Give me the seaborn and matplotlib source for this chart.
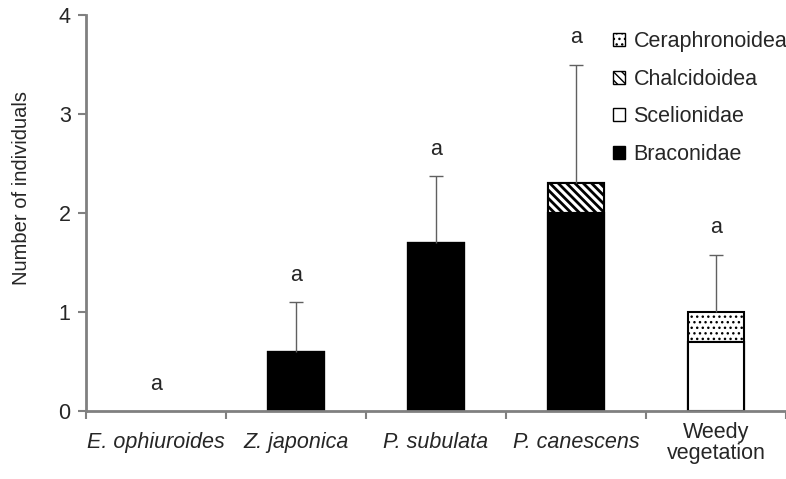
import numpy as np
import pandas as pd
import matplotlib
matplotlib.use("Agg")
import matplotlib.pyplot as plt
from matplotlib.patches import Patch
import seaborn as sns

# Data
categories = ["E. ophiuroides", "Z. japonica", "P. subulata", "P. canescens", "Weedy\nvegetation"]
braconidae = [0.0, 0.6, 1.7, 2.0, 0.0]
scelionidae = [0.0, 0.0, 0.0, 0.0, 0.7]
chalcidoidea = [0.0, 0.0, 0.0, 0.3, 0.0]
ceraphronoidea = [0.0, 0.0, 0.0, 0.0, 0.3]
err_upper = [0.0, 0.5, 0.67, 1.2, 0.58]
letters = ["a", "a", "a", "a", "a"]

sns.set_style("white")
plt.rcParams["font.family"] = ["Liberation Sans", "DejaVu Sans"]

fig = plt.figure(figsize=(7.86, 4.79), dpi=100)
ax = fig.add_axes([86 / 786, 68 / 479, 1 - 86 / 786, (411 - 15) / 479])

DOTS = "..."
STRIPES = "\\\\\\\\"

# cumulative stacks, drawn tallest first so lower layers overlap
c1 = np.array(braconidae)
c2 = c1 + np.array(scelionidae)
c3 = c2 + np.array(chalcidoidea)
c4 = c3 + np.array(ceraphronoidea)

layers = [
    (c4, "white", DOTS, 1.0),
    (c3, "white", STRIPES, 2.0),
    (c2, "white", None, 1.0),
    (c1, "black", None, 1.0),
]
for vals, col, hatch, hlw in layers:
    df = pd.DataFrame({"cat": categories, "val": np.where(vals > 0, vals, np.nan)})
    with plt.rc_context({"hatch.linewidth": hlw}):
        sns.barplot(data=df, x="cat", y="val", order=categories, color=col,
                    saturation=1, width=0.4, edgecolor="black", linewidth=1.5,
                    hatch=hatch, errorbar=None, ax=ax)

# error bars (upper only)
xpos = np.arange(len(categories))
err = np.array(err_upper)
mask = err > 0
eb = ax.errorbar(xpos[mask], c4[mask], yerr=[np.zeros(mask.sum()), err[mask]],
                 fmt="none", ecolor="#606060", elinewidth=1, capsize=5, capthick=1)
eb[1][0].set_visible(False)  # hide lower caps

# significance letters
for i, lab in enumerate(letters):
    ax.text(i, c4[i] + err[i] + 0.27, lab, ha="center", va="center", fontsize=15.5)

ax.set_ylim(0, 4)
ax.set_yticks([0, 1, 2, 3, 4])
ax.set_xlim(-0.5, 4.465)
ax.set_ylabel("Number of individuals", fontsize=14.5)
ax.yaxis.set_label_coords(-0.078, 0.563)
ax.set_xlabel("")

# ticks at category boundaries, labels at centres
ax.set_xticks(np.arange(-0.5, 5.0, 1.0))
ax.set_xticklabels([])
ax.set_xticks(xpos, minor=True)
ax.set_xticklabels(categories, minor=True, fontsize=15.5, linespacing=1.05, va="center")
for t in ax.get_xticklabels(minor=True):
    if "\n" not in t.get_text():
        t.set_style("italic")
ax.tick_params(axis="x", which="major", direction="out", length=6, color="#808080", width=1.5, bottom=True)
ax.tick_params(axis="x", which="minor", length=0, pad=23)
ax.tick_params(axis="y", direction="out", length=6, color="#808080", width=1.5, left=True, labelsize=15.5, pad=5)

for s in ["top", "right"]:
    ax.spines[s].set_visible(False)
for s in ["left", "bottom"]:
    ax.spines[s].set_color("#808080")
    ax.spines[s].set_linewidth(2)

with plt.rc_context({"hatch.linewidth": 1.0}):
    h_dots = Patch(facecolor="white", edgecolor="black", hatch=DOTS, label="Ceraphronoidea")
with plt.rc_context({"hatch.linewidth": 2.0}):
    h_str = Patch(facecolor="white", edgecolor="black", hatch=STRIPES, label="Chalcidoidea")
handles = [
    h_dots,
    h_str,
    Patch(facecolor="white", edgecolor="black", label="Scelionidae"),
    Patch(facecolor="black", edgecolor="black", label="Braconidae"),
]
ax.legend(handles=handles, loc="upper left", bbox_to_anchor=(0.753, 0.96), frameon=False,
          fontsize=15.5, handlelength=0.55, handleheight=0.55, handletextpad=0.4,
          labelspacing=0.78, borderaxespad=0, borderpad=0)

fig.savefig("out.png", dpi=100)
